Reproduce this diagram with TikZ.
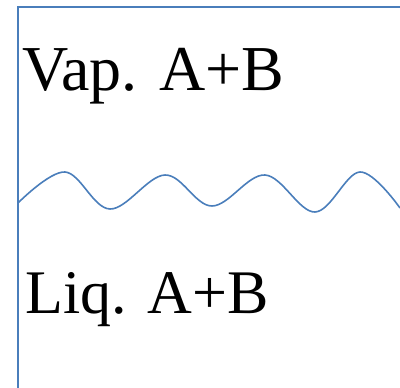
\documentclass[tikz,border=0pt]{standalone}
\usepackage{fontspec}
\setmainfont{Liberation Serif}
\definecolor{wallblue}{HTML}{4A7EBB}
\begin{document}
\begin{tikzpicture}[
    x=1pt, y=-1pt,
    wall/.style={draw=wallblue, line width=1.6pt},
    phase/.style={anchor=base west, inner sep=0pt}
]
    \useasboundingbox (0,0) rectangle (400,388);
    % Vessel walls
    \draw[wall] (18,388) -- (18,7) -- (400,7);
    % Interface
    \draw[wall] plot[smooth, tension=0.6] coordinates {(18,203) (65,172) (110,209) (165,175) (212,206) (265,175) (315,212) (360,172) (400,208)};
    % Phase labels
    \node[phase, font=\fontsize{64}{70}\selectfont] (vap) at (22,91) {Vap. A+B};
    \node[phase, font=\fontsize{62}{70}\selectfont] (liq) at (25,313) {Liq. A+B};
\end{tikzpicture}
\end{document}
